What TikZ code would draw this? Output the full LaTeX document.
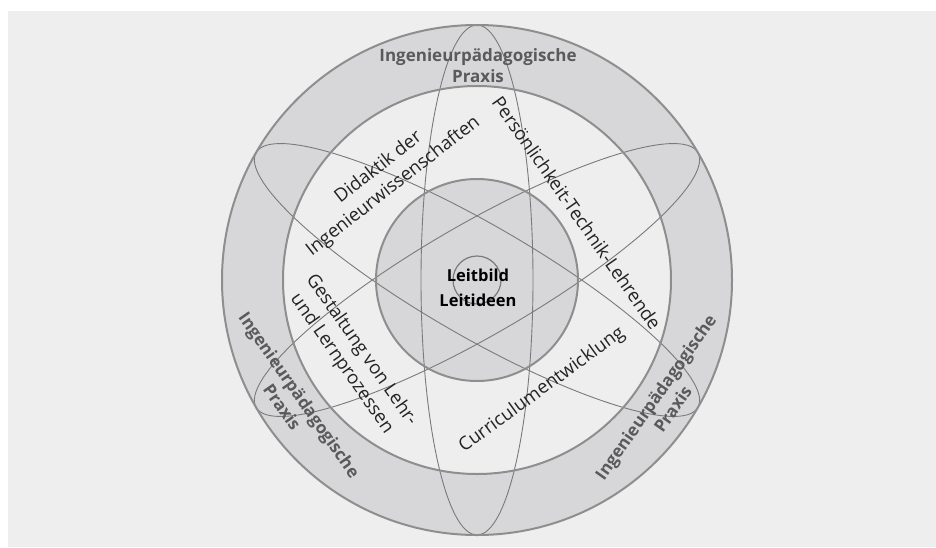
\documentclass[tikz,border=0pt]{standalone}
\usepackage{fontspec}
\setmainfont{Open Sans}
\definecolor{paper}{HTML}{EEEEEE}
\definecolor{ringfill}{HTML}{D7D7D9}
\definecolor{rimline}{HTML}{8E8E8E}
\definecolor{orbitline}{HTML}{7A7A7A}
\definecolor{praxistext}{HTML}{5A5A5C}
\definecolor{fieldtext}{HTML}{232323}

\begin{document}
\begin{tikzpicture}[x=1pt,y=1pt,
    rim/.style={draw=rimline, line width=2pt},
    orbit/.style={draw=orbitline, line width=0.9pt},
    praxis/.style={text=praxistext, font=\bfseries\fontsize{17}{21}\selectfont, align=center, inner sep=0pt},
    field/.style={text=fieldtext, font=\fontsize{18.5}{24}\selectfont, align=center, inner sep=0pt},
    core/.style={text=black, font=\bfseries\fontsize{16.5}{25}\selectfont, align=center, inner sep=0pt}]

  % Canvas
  \useasboundingbox (-477,-267) rectangle (459,280);
  \fill[paper] (-469,-267) rectangle (459,269);

  % Rings
  \coordinate (m) at (0,0);
  \fill[ringfill] (m) circle (255pt);
  \fill[paper] (m) circle (194pt);
  \fill[ringfill] (m) circle (101pt);

  % Orbits
  \foreach \a in {90,30,150}
    \draw[orbit, rotate around={\a:(m)}] (m) ellipse (255pt and 56pt);
  \draw[orbit, line width=1.2pt] (m) circle (24pt);

  \draw[rim] (m) circle (255pt);
  \draw[rim] (m) circle (194pt);
  \draw[rim] (m) circle (101pt);

  % Labels
  \node[praxis] (praxis top) at (1,214.5) {Ingenieurpädagogische\\Praxis};
  \node[praxis, rotate=-55] (praxis left) at (-186,-121) {Ingenieurpädagogische\\Praxis};
  \node[praxis, rotate=55] (praxis right) at (187,-123) {Ingenieurpädagogische\\Praxis};

  \node[field, rotate=38] (didaktik) at (-91,103) {Didaktik der\\Ingenieurwissenschaften};
  \node[field, rotate=-55] (person) at (100,67) {Persönlichkeit-Technik-Lehrende};
  \node[field, rotate=-55] (gestaltung) at (-125.5,-77) {Gestaltung von Lehr-\\und Lernprozessen};
  \node[field, rotate=36] (curriculum) at (65,-110) {Curriculumentwicklung};

  \node[core] (leitbild) at (1,-7.5) {Leitbild\\Leitideen};
\end{tikzpicture}
\end{document}
